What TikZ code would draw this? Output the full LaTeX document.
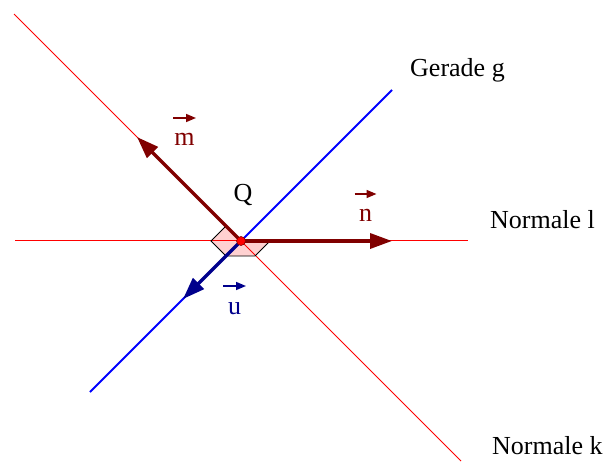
\documentclass[tikz,border=0pt]{standalone}
\usepackage{fontspec}
\setmainfont{Liberation Serif}
\usetikzlibrary{arrows.meta}
\definecolor{darkred}{RGB}{128,0,0}
\definecolor{darkblue}{RGB}{0,0,140}
\tikzset{
  thinred/.style={red, line width=1pt},
  gline/.style={blue, line width=2pt},
  vecarr/.style={line width=3.5pt, -{Triangle[length=22pt,width=15pt]}},
  vecsmall/.style={line width=1.5pt, -{Triangle[length=10pt,width=8pt]}},
  lbl/.style={inner sep=0pt, anchor=base, font=\fontsize{26}{30}\selectfont},
  marker/.style={fill=red, fill opacity=0.18, draw=none},
  markeredge/.style={black, line width=0.8pt},
}
\begin{document}
\begin{tikzpicture}[x=1pt,y=-1pt]
\useasboundingbox (0,0) rectangle (605,461);
% coordinates
\coordinate (Q) at (241,241);
\coordinate (kA) at (14,14);
\coordinate (kB) at (461,461);
\coordinate (lA) at (15,240.5);
\coordinate (lB) at (468,240.5);
\coordinate (gA) at (90,392);
\coordinate (gB) at (392,90);
\coordinate (mEnd) at (137,137);
\coordinate (nEnd) at (392,241);
\coordinate (uEnd) at (183,299);
% marker corners
\coordinate (pm) at (226,226);
\coordinate (pl) at (211,241);
\coordinate (pu) at (226,256);
\coordinate (pun) at (255,256);
\coordinate (pn) at (270,241);
% red normals
\draw[thinred] (kA) -- (kB);
\draw[thinred] (lA) -- (lB);
% right-angle markers
\fill[marker] (Q) -- (pm) -- (pl) -- (pu) -- cycle;
\fill[marker] (Q) -- (pu) -- (pun) -- (pn) -- cycle;
\draw[markeredge] (pm) -- (pl) -- (pu);
\draw[markeredge] (pu) -- (pun) -- (pn);
% line g
\draw[gline] (gA) -- (gB);
% vectors
\draw[vecarr, darkred] (Q) -- (mEnd);
\draw[vecarr, darkred] (Q) -- (nEnd);
\draw[vecarr, darkblue] (Q) -- (uEnd);
% point Q
\filldraw[fill=red, draw=darkred, line width=0.6pt] (Q) circle (4.5pt);
% labels
\node[lbl] (labQ) at (243,201) {Q};
\node[lbl, text=darkred] (labm) at (184.5,145) {m};
\node[lbl, text=darkred] (labn) at (365.5,221) {n};
\node[lbl, text=darkblue] (labu) at (234.5,314) {u};
\draw[vecsmall, darkred] ([xshift=-11.5pt,yshift=27pt]labm.base) -- ([xshift=11.5pt,yshift=27pt]labm.base);
\draw[vecsmall, darkred] ([xshift=-11pt,yshift=27pt]labn.base) -- ([xshift=11pt,yshift=27pt]labn.base);
\draw[vecsmall, darkblue] ([xshift=-11.5pt,yshift=28pt]labu.base) -- ([xshift=11.5pt,yshift=28pt]labu.base);
\node[lbl, anchor=base west] (labg) at (410,76) {Gerade g};
\node[lbl, anchor=base west] (labl) at (490,228) {Normale l};
\node[lbl, anchor=base west] (labk) at (492,454) {Normale k};
\end{tikzpicture}
\end{document}
